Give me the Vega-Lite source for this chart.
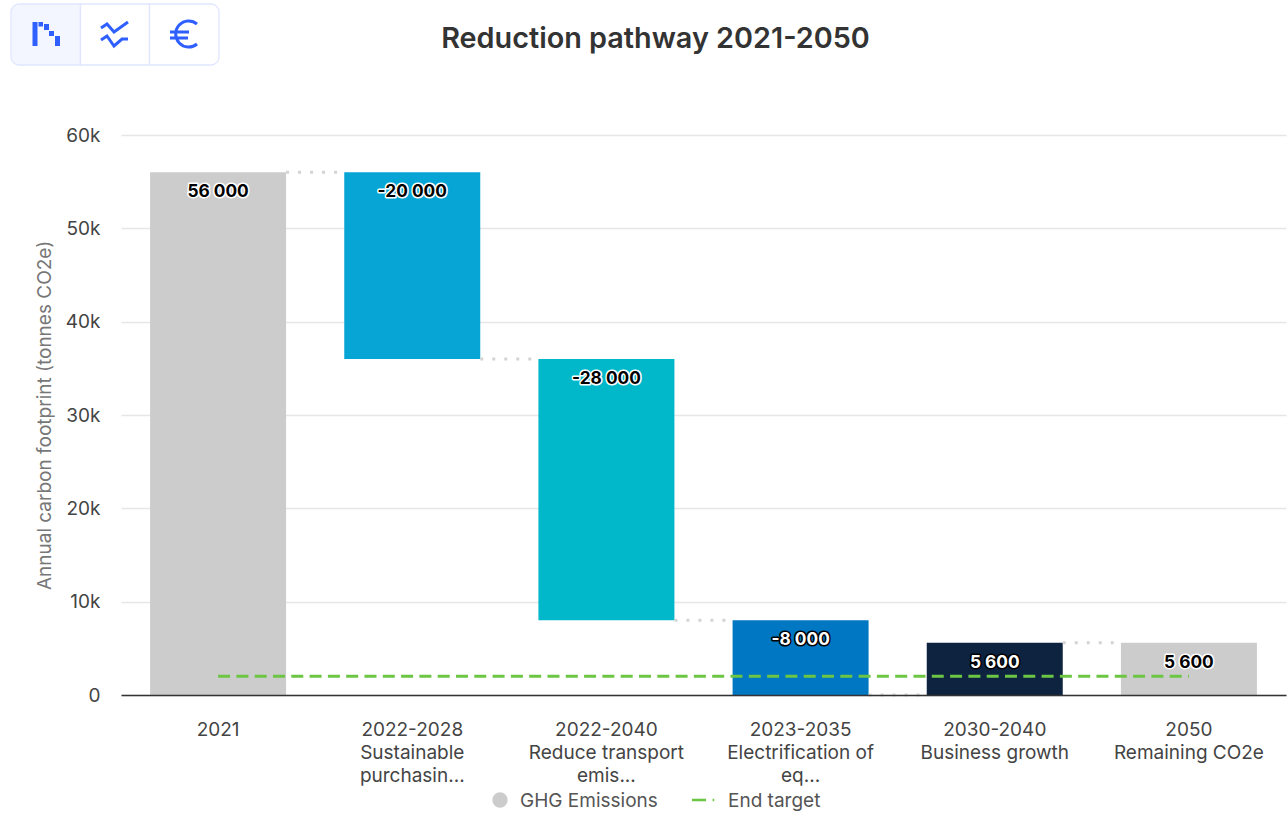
{
"$schema":"https://vega.github.io/schema/vega-lite/v6.json",
"width":1165,"height":560,
"autosize":{"type":"none"},
"padding":{"left":121,"top":135,"right":1,"bottom":119},
"background":"white",
"title":{"text":"Reduction pathway 2021-2050","anchor":"middle","dx":-48,"offset":-52,"fontSize":28.8,"fontWeight":600,"font":"Inter","color":"#333333"},
"config":{"view":{"stroke":null},"font":"Inter"},
"datasets":{
"bars":[
{"cat":"2021|","start":0,"end":56000,"label":"56 000"},
{"cat":"2022-2028|Sustainable|purchasin...","start":36000,"end":56000,"label":"-20 000"},
{"cat":"2022-2040|Reduce transport|emis...","start":8000,"end":36000,"label":"-28 000"},
{"cat":"2023-2035|Electrification of|eq...","start":0,"end":8000,"label":"-8 000"},
{"cat":"2030-2040|Business growth","start":0,"end":5600,"label":"5 600"},
{"cat":"2050|Remaining CO2e","start":0,"end":5600,"label":"5 600"}],
"links":[
{"from":"2021|","to":"2022-2028|Sustainable|purchasin...","level":56000},
{"from":"2022-2028|Sustainable|purchasin...","to":"2022-2040|Reduce transport|emis...","level":36000},
{"from":"2022-2040|Reduce transport|emis...","to":"2023-2035|Electrification of|eq...","level":8000},
{"from":"2023-2035|Electrification of|eq...","to":"2030-2040|Business growth","level":0},
{"from":"2030-2040|Business growth","to":"2050|Remaining CO2e","level":5600}],
"target":[{"cat":"2021|","target":2000},{"cat":"2050|Remaining CO2e","target":2000}],
"buttons":[{"button":"Waterfall"},{"button":"Trend"},{"button":"Cost"}],
"legend":[{"series":"GHG Emissions"},{"series":"End target"}]
},
"resolve":{"scale":{"x":"independent","shape":"independent","fill":"independent","stroke":"independent"}},
"layer":[
{
"layer":[
{"data":{"name":"bars"},"mark":{"type":"bar","size":136,"tooltip":false},
 "encoding":{
 "x":{"field":"cat","type":"nominal","sort":null,
  "scale":{"paddingInner":0.3,"paddingOuter":0.15},
  "axis":{"title":null,"labelAngle":0,"labelExpr":"split(datum.value,'|')","labelFontSize":19,"labelColor":"#444444","labelLineHeight":23,"labelPadding":34,"labelLimit":300,"ticks":false,"domainColor":"#333333","domainWidth":1.5,"grid":false,"labelFont":"Inter","labelBaseline":"middle","zindex":1}},
 "y":{"field":"start","type":"quantitative","scale":{"domain":[0,60000],"nice":false},
  "axis":{"title":"Annual carbon footprint (tonnes CO2e)","titleFontSize":19,"titleFontWeight":"normal","titleColor":"#777777","titleFont":"Inter","titlePadding":11,"values":[0,10000,20000,30000,40000,50000,60000],"labelExpr":"datum.value==0?'0':(datum.value/1000)+'k'","labelFontSize":19,"labelColor":"#444444","labelPadding":21,"ticks":false,"domain":false,"gridColor":"#e6e6e6","gridWidth":1.5,"labelFont":"Inter"}},
 "y2":{"field":"end"},
 "color":{"field":"cat","type":"nominal","sort":null,"legend":null,
  "scale":{"range":["#cccccc","#06a5d6","#00b8c9","#0077c2","#0d2340","#cccccc"]}}
 }},
{"data":{"name":"links"},"mark":{"type":"rule","color":"#d4d4d4","strokeWidth":3,"strokeDash":[3,9],"xOffset":68,"x2Offset":-72},
 "encoding":{"x":{"field":"from","type":"nominal","sort":null},"x2":{"field":"to"},"y":{"field":"level","type":"quantitative"}}},
{"data":{"name":"bars"},"mark":{"type":"text","fontSize":17.3,"fontWeight":"bold","font":"Inter","strokeWidth":3,"strokeJoin":"round","dy":20,"baseline":"middle"},
 "encoding":{"x":{"field":"cat","type":"nominal","sort":null},"y":{"field":"end","type":"quantitative"},"text":{"field":"label"},
 "stroke":{"field":"cat","type":"nominal","sort":null,"legend":null,"scale":{"range":["#ffffff","#ffffff","#ffffff","#000000","#000000","#ffffff"]}}}},
{"data":{"name":"bars"},"mark":{"type":"text","fontSize":17.3,"fontWeight":"bold","font":"Inter","dy":20,"baseline":"middle"},
 "encoding":{"x":{"field":"cat","type":"nominal","sort":null},"y":{"field":"end","type":"quantitative"},"text":{"field":"label"},
 "fill":{"field":"cat","type":"nominal","sort":null,"legend":null,"scale":{"range":["#000000","#000000","#000000","#ffffff","#ffffff","#000000"]}}}},
{"data":{"name":"target"},"mark":{"type":"line","color":"#6cc644","strokeWidth":3,"strokeDash":[12,6.3]},
 "encoding":{"x":{"field":"cat","type":"nominal","sort":null},"y":{"field":"target","type":"quantitative"}}}
]},
{"data":{"name":"buttons"},"mark":{"type":"point","filled":true,"size":4,"stroke":"#e0e6ff","strokeWidth":1.3,"opacity":1},
 "encoding":{
 "x":{"field":"button","type":"nominal","sort":null,"axis":null,"scale":{"type":"point","padding":0,"domain":["Waterfall","Trend","Cost"],"range":[-75,63]}},
 "y":{"value":-100.5},
 "fill":{"field":"button","type":"nominal","legend":null,"scale":{"domain":["Waterfall","Trend","Cost"],"range":["#f3f6ff","#ffffff","#ffffff"]}},
 "shape":{"field":"button","type":"nominal","legend":null,"scale":{"domain":["Waterfall","Trend","Cost"],"range":["M34.5,-30.5H-27A8,8 0 0 0 -35,-22.5V22.5A8,8 0 0 0 -27,30.5H34.5Z","M-34.5,-30.5H34.5V30.5H-34.5Z","M-34.5,-30.5H27A8,8 0 0 1 35,-22.5V22.5A8,8 0 0 1 27,30.5H-34.5Z"]}}
 }},
{"data":{"name":"buttons"},"mark":{"type":"point","filled":false,"size":4,"stroke":"#2f5fff","strokeWidth":3,"opacity":1},
 "encoding":{
 "x":{"field":"button","type":"nominal","sort":null,"axis":null,"scale":{"type":"point","padding":0,"domain":["Waterfall","Trend","Cost"],"range":[-75,63]}},
 "y":{"value":-101},
 "shape":{"field":"button","type":"nominal","legend":null,"scale":{"domain":["Waterfall","Trend","Cost"],"range":["M-12,-10.5H-10V10.5H-12ZM-6,-10.5H-4.5V-9H-6ZM-0.5,-8.5H1.5V-5.5H-0.5ZM4.5,-1.5H6.5V0.5H4.5ZM10.5,3.5H12.5V10.5H10.5Z","M-14,-6L-8,-10L-1,-2L13,-12M-14,6L-8,2L-1,12L7,5H13","M13,-10A13,13 0 1 0 13,10M-14,-2H5M-14,4H4"]}}
 }},
{"data":{"name":"legend"},"mark":{"type":"point","filled":true,"size":165,"strokeWidth":2.5,"opacity":1},
 "encoding":{
 "x":{"field":"series","type":"nominal","sort":null,"axis":null,"scale":{"type":"point","padding":0,"domain":["GHG Emissions","End target"],"range":[379,582]}},
 "y":{"value":665},
 "fill":{"field":"series","type":"nominal","legend":null,"scale":{"domain":["GHG Emissions","End target"],"range":["#cccccc","#6cc644"]}},
 "stroke":{"field":"series","type":"nominal","legend":null,"scale":{"domain":["GHG Emissions","End target"],"range":["#cccccc","#6cc644"]}},
 "shape":{"field":"series","type":"nominal","legend":null,"scale":{"domain":["GHG Emissions","End target"],"range":["circle","M-1.72,0H0.47M1.5,0H1.75"]}}
 }},
{"data":{"name":"legend"},"mark":{"type":"text","align":"left","baseline":"middle","fontSize":19,"font":"Inter","color":"#555555"},
 "encoding":{
 "x":{"field":"series","type":"nominal","sort":null,"axis":null,"scale":{"type":"point","padding":0,"domain":["GHG Emissions","End target"],"range":[399,607]}},
 "y":{"value":666},
 "text":{"field":"series"}
 }}
]
}
